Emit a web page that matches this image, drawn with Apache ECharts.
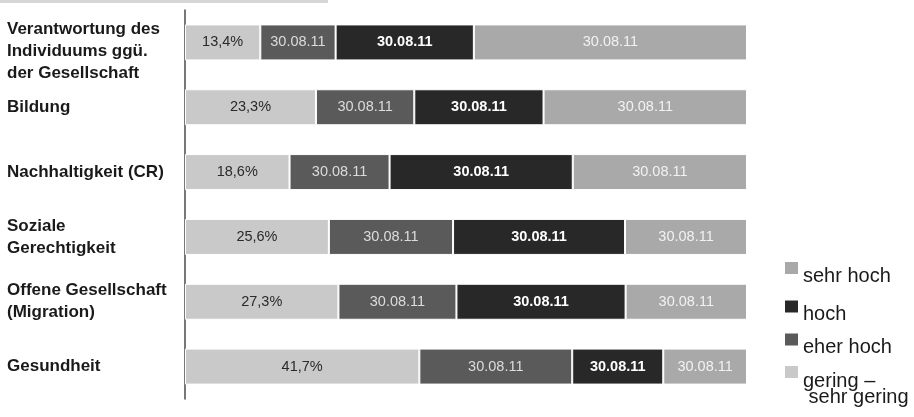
<!DOCTYPE html>
<html>
<head>
<meta charset="utf-8">
<script src="https://cdn.jsdelivr.net/npm/echarts@6/dist/echarts.min.js"></script>
<style>
html,body{margin:0;padding:0;background:#fff;}
#chart{width:914px;height:417px;}
</style>
</head>
<body>
<div id="chart"></div>
<script>
const categories = [
  'Verantwortung des\nIndividuums ggü.\nder Gesellschaft',
  'Bildung',
  'Nachhaltigkeit (CR)',
  'Soziale\nGerechtigkeit',
  'Offene Gesellschaft\n(Migration)',
  'Gesundheit'
];
const seriesNames = ['gering –\n sehr gering', 'eher hoch', 'hoch', 'sehr hoch'];
const legendOrder = ['sehr hoch', 'hoch', 'eher hoch', 'gering –\n sehr gering'];
const geringValues   = [13.4, 23.3, 18.6, 25.6, 27.3, 41.7];
const eherHochValues = [13.4, 17.5, 17.8, 22.1, 21.0, 27.2];
const hochValues     = [24.6, 23.0, 32.6, 30.6, 30.1, 16.2];
const sehrHochValues = [48.6, 36.2, 31.0, 21.7, 21.6, 14.9];
const segmentLabel = '30.08.11';

const colors = ['#c9c9c9', '#5a5a5a', '#282828', '#a9a9a9'];
const labelStyles = [
  {color: '#2a2a2a', fontWeight: 'normal'},
  {color: '#dcdcdc', fontWeight: 'normal'},
  {color: '#ffffff', fontWeight: 'bold'},
  {color: '#f2f2f2', fontWeight: 'normal'}
];
const allValues = [geringValues, eherHochValues, hochValues, sehrHochValues];
const FONT = 'Liberation Sans, Arial, sans-serif';

// legend item tops (layout only)
const legendTops = [258, 296.5, 329.5, 354];

function legendFor(name, top) {
  return {
    orient: 'vertical',
    left: 785,
    top: top,
    padding: 0,
    itemWidth: 13,
    itemHeight: 12,
    icon: 'rect',
    itemStyle: {borderWidth: 0},
    formatter: function (n) {
      if (n.indexOf('\n') >= 0) {
        const parts = n.split('\n');
        return '{g|' + parts[0] + '}{sp4| }\n{g|' + parts[1] + '}';
      }
      return '{t|' + n + '}{sp| }';
    },
    textStyle: {
      fontFamily: FONT, fontSize: 20, color: '#1a1a1a',
      rich: {
        t: {fontFamily: FONT, fontSize: 20, lineHeight: 22, verticalAlign: 'bottom', color: '#1a1a1a'},
        sp: {fontFamily: FONT, fontSize: 20, lineHeight: 36},
        g: {fontFamily: FONT, fontSize: 20, lineHeight: 16, verticalAlign: 'bottom', color: '#1a1a1a'},
        sp4: {fontFamily: FONT, fontSize: 20, lineHeight: 55}
      }
    },
    data: [name]
  };
}

const chart = echarts.init(document.getElementById('chart'), null, {renderer: 'canvas'});
chart.setOption({
  backgroundColor: '#ffffff',
  animation: false,
  graphic: [{
    type: 'rect', left: 0, top: 0, shape: {width: 328, height: 3},
    style: {fill: '#d6d6d6'}, silent: true
  }],
  grid: {left: 185, right: 167, top: 10, bottom: 18, containLabel: false},
  xAxis: {type: 'value', min: 0, max: 100, show: false},
  yAxis: {
    type: 'category',
    inverse: true,
    data: categories,
    offset: 2,
    axisTick: {show: false},
    axisLine: {show: true, lineStyle: {color: '#4a4a4a', width: 1.5}},
    axisLabel: {
      align: 'left',
      margin: 176,
      formatter: function (v) {
        const lines = v.split('\n');
        let s = lines.map(l => '{b|' + l + '}').join('\n');
        if (lines.length > 2) s = '{s| }\n' + s;
        return s;
      },
      rich: {
        b: {fontFamily: FONT, fontWeight: 'bold', fontSize: 17, lineHeight: 22, color: '#1a1a1a'},
        s: {fontSize: 10, lineHeight: 18}
      }
    }
  },
  legend: legendOrder.map((n, i) => legendFor(n, legendTops[i])),
  series: seriesNames.map((name, i) => ({
    name: name,
    type: 'bar',
    stack: 'total',
    barWidth: 36,
    data: allValues[i],
    itemStyle: {color: colors[i], borderColor: '#ffffff', borderWidth: 1},
    label: {
      show: true,
      position: 'inside',
      fontFamily: FONT,
      fontSize: 14.5,
      color: labelStyles[i].color,
      fontWeight: labelStyles[i].fontWeight,
      formatter: i === 0
        ? (p => p.value.toFixed(1).replace('.', ',') + '%')
        : (() => segmentLabel)
    }
  }))
});
</script>
</body>
</html>
